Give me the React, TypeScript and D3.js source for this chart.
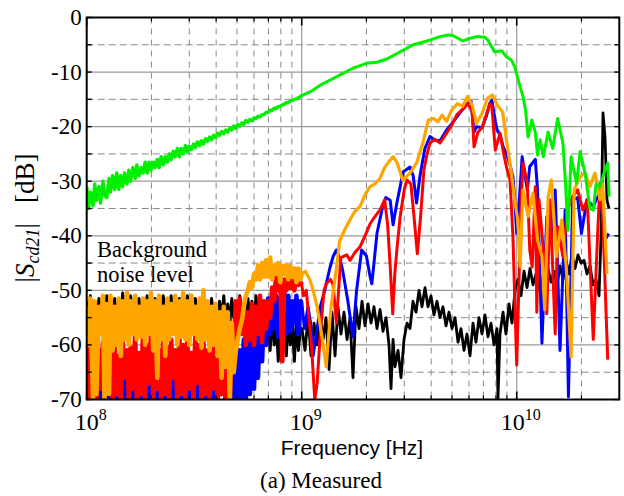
import React from 'react';
import * as d3 from 'd3';

// ---------- DATA ----------
const yTickValues = [0, -10, -20, -30, -40, -50, -60, -70];
const yHalfTicks = [-5, -15, -25, -35, -45, -55, -65];
const xMajorTicks = [1e8, 1e9, 1e10];
const xMajorExponents = ['8', '9', '10'];
const xMinorTicks = [2e8, 3e8, 4e8, 5e8, 6e8, 7e8, 8e8, 9e8, 2e9, 3e9, 4e9, 5e9, 6e9, 7e9, 8e9, 9e9, 2e10];

// low band sweep (MHz)
const freqLoMHz = [
  100, 102, 104, 107, 109, 111, 114, 116, 119, 121,
  124, 127, 129, 132, 135, 138, 141, 144, 147, 150,
  154, 157, 160, 164, 168, 171, 175, 179, 183, 187,
  191, 195, 199, 204, 208, 213, 217, 222, 227, 232,
  237, 242, 247, 253, 258, 264, 270, 275, 281, 288,
  294, 300, 307, 314, 320, 327, 335, 342, 349, 357,
  365, 373, 381, 389, 398, 406, 415, 424, 434, 443,
  453, 463, 473, 483, 494, 504, 515, 527, 538, 550,
  562, 574, 587, 600, 613, 626, 640, 654, 668, 683,
  698, 713, 729, 745, 761, 778, 795, 812, 830, 848,
  866, 885, 905, 924, 945, 965, 986,
];

const greenLo = [
  -31, -35, -32, -34.5, -30.5, -33.5, -31, -34, -30, -32.5,
  -33, -29.5, -32, -29, -31.5, -28.5, -31.5, -29, -31, -28.5,
  -30.5, -28, -30, -27.5, -29.5, -27, -29, -27.5, -28.5, -26.5,
  -28.5, -26.5, -28, -26.5, -27.5, -26, -27.5, -25.5, -27, -25.5,
  -26.5, -25, -26, -24.5, -25.5, -24, -25.5, -24, -25, -23.5,
  -24.6, -23.6, -24.2, -23.2, -23.8, -22.8, -23.5, -22.6, -23.2, -22.2,
  -22.7, -21.9, -22.4, -21.6, -22.0, -21.2, -21.6, -20.9, -21.3, -20.6,
  -21.0, -20.3, -20.6, -19.9, -20.3, -19.6, -19.9, -19.3, -19.6, -18.9,
  -19.2, -18.7, -18.9, -18.4, -18.5, -18.1, -18.2, -17.8, -17.8, -17.4,
  -17.4, -17.0, -17.0, -16.6, -16.7, -16.3, -16.3, -16.0, -15.9, -15.6,
  -15.6, -15.3, -15.2, -15.0, -14.9, -14.7, -14.5,
];

const blackLo = [
  -52, -56, -51, -55, -53, -57, -51.5, -55, -52.5, -56,
  -51, -55.5, -53, -56.5, -51.5, -55, -52, -57, -50.5, -55,
  -52.5, -56, -51, -55.5, -53, -56, -51.5, -55, -52, -56.5,
  -51, -55, -53.5, -56, -51.5, -55.5, -52, -57, -51, -55,
  -52.5, -56, -51, -55, -53, -57, -51.5, -55.5, -52, -56,
  -51, -55, -52.5, -56.5, -51.5, -55, -53, -56, -51, -55.5,
  -52, -56, -51.5, -55, -53, -57, -52, -55.5, -51, -56,
  -52.5, -56, -51.5, -55, -52, -57, -51, -55.5, -52.5, -56,
  -51.5, -55, -52, -56.5, -51, -55.5, -53, -58, -54, -59,
  -55, -61, -54.5, -60, -56, -63, -55, -61, -56.5, -62,
  -55, -60, -56, -63, -55.5, -61, -57,
];

const orangeLo = [
  -53, -60, -51.5, -70, -52, -69, -53, -58, -51, -70,
  -52.5, -69, -51, -61, -53, -60, -51.5, -62, -52, -59,
  -50.5, -60, -52, -58, -51, -59, -53, -58.5, -51.5, -60,
  -52, -58, -50.5, -61, -52, -66, -51, -59, -53, -62,
  -51.5, -59, -52.5, -58, -51, -60, -52, -58.5, -50.5, -59,
  -52, -60, -51, -58, -53, -59, -51.5, -60.5, -50, -59,
  -52, -61, -53, -60, -52.5, -62, -54, -66, -53, -64,
  -54, -70, -56, -65, -61, -59, -57, -55.5, -53, -51,
  -50, -48.5, -49.5, -47, -48, -45.5, -48, -45, -47.5, -44.5,
  -47.5, -44, -48, -45.5, -47, -45, -48.5, -45.5, -47, -45.5,
  -48, -45.5, -47.5, -46, -48.5, -46, -48,
];

const redLo = [
  -59, -70, -60, -66, -58.5, -70, -61, -68, -59.5, -70,
  -60, -67, -61.5, -70, -60, -69, -62, -70, -59, -66,
  -61, -70, -60.5, -68, -58, -70, -61.5, -69, -57, -70,
  -60, -67, -57.5, -70, -59, -68, -61, -70, -58, -69,
  -60.5, -70, -59, -66, -61, -70, -58.5, -69, -60, -70,
  -59, -68, -61.5, -70, -58, -67, -60, -70, -59.5, -69,
  -61, -70, -58.5, -68, -60, -70, -59, -69, -57.5, -70,
  -58, -70, -56, -61, -52, -59, -51.5, -58, -53, -60,
  -54, -59, -52.5, -60, -53, -58, -51, -59.5, -52, -57,
  -52, -55, -49.5, -52, -47, -50, -47.5, -63, -48, -50,
  -47.5, -49.5, -48, -50, -47.5, -49, -48.5,
];

const blueLo = [
  -66, -70, -64, -70, -67, -70, -63, -70, -65, -69,
  -64, -70, -66, -70, -63.5, -70, -65, -70, -64, -70,
  -66, -70, -63, -70, -65, -69, -64, -70, -66, -70,
  -63, -70, -65, -70, -64, -70, -66, -69, -63, -70,
  -65, -70, -64, -70, -66, -70, -63, -70, -65, -70,
  -64, -70, -66, -69, -63, -70, -65, -70, -64, -70,
  -66, -70, -63, -70, -65, -70, -64, -69, -62, -70,
  -64, -70, -63, -70, -62, -70, -61, -70, -59, -70,
  -58, -69, -57, -68, -56, -66, -55, -63, -53.5, -60,
  -51.5, -58, -52, -57, -51, -58.5, -51.5, -57, -50.5, -58,
  -51, -57.5, -52, -56, -51, -58, -52,
];

// upper band: [GHz, dB]
const greenHi: [number, number][] = [
  [1.0, -14.3], [1.1, -13.6], [1.22, -12.4], [1.35, -11.5], [1.51, -10.5], [1.73, -9.3], [2.0, -8.4],
  [2.24, -8.2], [2.49, -7.6], [2.87, -6.3], [3.3, -5.0], [3.83, -4.3], [4.4, -3.5], [4.79, -3.2],
  [5.04, -3.3], [5.62, -4.3], [6.07, -3.8], [6.53, -3.5], [7.1, -3.6], [7.33, -4.1], [7.9, -6.3],
  [8.53, -6.1], [8.96, -7.2], [9.45, -7.8], [9.78, -9], [10.37, -12.7], [10.7, -14.5], [11.0, -17],
  [11.3, -21.9], [11.76, -18.8], [12.2, -21], [12.5, -25.2], [12.85, -22.4], [13.3, -25.5], [14.0, -21],
  [14.7, -24], [15.5, -18.5], [16.4, -23], [16.9, -31], [17.3, -39], [17.9, -25.5], [19.0, -30.4],
  [19.7, -24.6], [20.8, -28.5], [21.9, -35], [22.7, -35.3], [23.4, -30.5], [24.4, -31], [25.7, -28],
  [26.5, -26.7], [26.9, -32.8],
];

const orangeHi: [number, number][] = [
  [1.0, -47], [1.04, -46.5], [1.09, -48], [1.13, -50], [1.18, -53], [1.22, -56.5], [1.27, -61], [1.3, -64],
  [1.33, -59], [1.37, -53], [1.45, -46], [1.5, -41], [1.58, -39], [1.68, -37], [1.77, -35.5], [1.87, -34.6],
  [1.97, -32.5], [2.08, -31], [2.19, -30.5], [2.31, -29.5], [2.43, -27.5], [2.58, -26.1], [2.66, -25.5],
  [2.77, -26.5], [2.95, -29.8], [3.19, -28.5], [3.42, -26.7], [3.66, -23], [3.88, -18.8], [4.1, -18.5],
  [4.3, -19.1], [4.5, -17.9], [4.72, -19], [4.98, -17], [5.3, -15.8], [5.6, -16.3], [5.9, -14.5], [6.2, -16],
  [6.5, -19.4], [6.9, -17.6], [7.3, -14.8], [7.7, -14.2], [8.1, -16], [8.6, -17.3], [8.96, -22.4],
  [9.45, -28.6], [9.78, -33.4], [10.1, -37], [10.37, -45.6], [10.7, -31.6], [11.3, -36.5], [11.9, -32.2],
  [12.5, -40.8], [13.1, -43.8], [13.5, -53.6], [14.0, -32.8], [14.5, -29.8], [15.3, -43.8], [16.2, -37.1],
  [17.0, -45.7], [17.9, -62.2], [18.5, -31.6], [19.7, -29.2], [20.8, -28.5], [21.9, -31], [23.1, -28.5],
  [24.4, -33.4], [25.1, -30.5], [26.3, -47],
];

const redHi: [number, number][] = [
  [1.0, -49], [1.02, -51], [1.05, -50], [1.08, -55], [1.11, -60], [1.15, -70], [1.18, -67], [1.22, -58],
  [1.27, -50], [1.3, -48.8], [1.36, -48], [1.4, -49], [1.45, -56], [1.52, -44], [1.62, -43.5], [1.68, -44.5],
  [1.77, -43], [1.87, -42], [1.97, -40], [2.08, -37.8], [2.19, -36.5], [2.31, -35.3], [2.43, -33.4],
  [2.51, -38], [2.58, -45.6], [2.65, -54.3], [2.71, -47], [2.77, -42.6], [2.87, -36.5], [3.0, -31.5],
  [3.09, -29.8], [3.22, -30.5], [3.32, -36], [3.45, -43.3], [3.58, -36], [3.7, -28], [3.83, -25], [3.95, -23],
  [4.16, -22.3], [4.4, -23], [4.72, -21.2], [4.98, -19.8], [5.27, -17.8], [5.62, -16.8], [5.9, -15.8],
  [6.2, -17], [6.33, -23.7], [6.6, -21], [6.9, -20.2], [7.2, -18], [7.5, -15.8], [7.66, -16.2], [7.95, -24.3],
  [8.37, -21.2], [8.7, -25], [8.96, -27.4], [9.31, -29.8], [9.6, -40], [10.0, -63.7], [10.3, -45],
  [10.5, -33.4], [10.7, -26.7], [11.2, -30.4], [11.5, -42.6], [11.8, -45.7], [12.2, -31], [12.4, -54],
  [12.7, -33.4], [13.3, -42.6], [13.8, -54.3], [14.3, -33.4], [15.1, -58], [15.5, -38.3], [16.4, -43.8],
  [17.2, -35.3], [18.2, -32.8], [19.2, -31.6], [20.3, -35.3], [21.3, -33.4], [22.7, -59], [23.8, -39.5],
  [24.4, -30.4], [25.1, -36], [26.5, -62.7],
];

const blueHi: [number, number][] = [
  [1.0, -52], [1.03, -57], [1.07, -53], [1.1, -56], [1.13, -62], [1.17, -58], [1.22, -53], [1.28, -50],
  [1.35, -46], [1.4, -43.8], [1.45, -42.6], [1.5, -44], [1.55, -46.3], [1.64, -52], [1.73, -58.5], [1.8, -50],
  [1.9, -42.6], [2.0, -43.7], [2.08, -47.5], [2.12, -48.8], [2.24, -39.5], [2.37, -35], [2.46, -33],
  [2.58, -33.5], [2.66, -38], [2.77, -34], [2.87, -31], [2.96, -28.3], [3.19, -27.4], [3.3, -29], [3.42, -34],
  [3.55, -29], [3.74, -24], [3.95, -21.8], [4.16, -22.5], [4.4, -22.6], [4.72, -20.6], [4.98, -19.5],
  [5.27, -18.2], [5.62, -16.8], [5.9, -15.8], [6.13, -15.3], [6.33, -21], [6.5, -20], [6.9, -20.2],
  [7.24, -18], [7.5, -15.7], [7.66, -15.1], [7.95, -19], [8.1, -20.6], [8.37, -21.5], [8.65, -23.7],
  [8.96, -25], [9.31, -27], [9.6, -29.2], [9.78, -33], [10.0, -39.6], [10.3, -33], [10.6, -25.5],
  [11.2, -31.6], [11.5, -27.3], [12.2, -26], [12.5, -31.6], [13.1, -59.7], [13.8, -36.5], [14.5, -39.6],
  [15.1, -31.6], [15.9, -61], [16.8, -35.3], [17.4, -69.5], [18.2, -33.4], [19.2, -33], [20.0, -39.6],
  [21.2, -33.4], [22.7, -34.6], [24.4, -32], [25.7, -40.8], [26.8, -39.6],
];

const blackHi: [number, number][] = [
  [1.003, -57], [1.036, -61], [1.07, -55], [1.105, -62], [1.141, -56], [1.178, -60], [1.217, -54.5],
  [1.257, -59], [1.297, -55], [1.34, -64.5], [1.383, -54], [1.429, -62], [1.475, -53], [1.523, -58],
  [1.573, -54], [1.625, -59], [1.678, -55], [1.732, -66], [1.789, -53], [1.847, -57], [1.908, -52],
  [1.97, -56.5], [2.034, -52.5], [2.101, -56], [2.169, -53], [2.24, -57], [2.313, -53.5], [2.389, -57.5],
  [2.467, -55], [2.547, -60], [2.602, -68], [2.659, -59], [2.716, -64], [2.805, -61], [2.896, -66],
  [2.991, -59], [3.089, -56], [3.189, -57], [3.293, -52], [3.401, -54], [3.512, -50], [3.626, -53],
  [3.745, -49.5], [3.867, -53], [3.993, -51], [4.123, -54.5], [4.258, -52], [4.397, -55], [4.54, -53],
  [4.689, -56.5], [4.841, -54], [5.0, -57], [5.164, -55], [5.333, -59.5], [5.506, -57], [5.686, -61],
  [5.871, -58], [6.063, -62], [6.261, -56], [6.466, -59.5], [6.677, -55], [6.895, -58], [7.12, -54.5],
  [7.352, -58.5], [7.593, -56], [7.84, -60], [8.097, -57], [8.18, -70], [8.361, -58], [8.634, -54],
  [8.916, -58], [9.208, -52.5], [9.508, -56], [9.818, -50], [10.14, -48], [10.47, -51], [10.81, -46.5],
  [11.17, -49.5], [11.53, -46], [11.91, -49], [12.3, -47], [12.7, -50], [13.11, -47.5], [13.54, -49],
  [13.98, -46], [14.44, -48.5], [14.91, -46.5], [15.4, -49], [15.9, -45.5], [16.42, -48], [16.96, -44.5],
  [17.51, -47], [18.08, -43.5], [18.67, -46], [19.28, -43.5], [19.91, -45], [20.56, -44.5], [21.23, -47],
  [21.93, -45.5], [22.64, -49], [23.38, -48], [24.15, -51], [24.67, -40], [25.2, -17.5], [25.75, -22],
  [26.3, -33.5], [26.87, -35],
];

// ---------- CHART ----------
const W = 624;
const H = 496;
const PL = 86.7;
const PR = 619.3;
const PT = 17.5;
const PB = 399.5;

function buildLo(lo: number[], hi: [number, number][]): [number, number][] {
  const out: [number, number][] = [];
  const n = Math.min(lo.length, freqLoMHz.length);
  for (let i = 0; i < n; i++) out.push([freqLoMHz[i] * 1e6, lo[i]]);
  if (hi.length) out.push([hi[0][0] * 1e9, hi[0][1]]);
  return out;
}

function buildHi(lo: number[], hi: [number, number][]): [number, number][] {
  const out: [number, number][] = [];
  const n = Math.min(lo.length, freqLoMHz.length);
  if (n) out.push([freqLoMHz[n - 1] * 1e6, lo[n - 1]]);
  for (const [g, v] of hi) out.push([g * 1e9, v]);
  return out;
}

export default function App() {
  const x = d3.scaleLog().domain([1e8, 3e10]).range([PL, PR]);
  const y = d3.scaleLinear().domain([-70, 0]).range([PB, PT]);
  const line = d3
    .line<[number, number]>()
    .x((d) => x(d[0]))
    .y((d) => y(d[1]));

  const series = [
    { key: 'black', color: '#000000', wLo: 3, wHi: 2.8, lo: blackLo, hi: blackHi },
    { key: 'blue', color: '#0000ff', wLo: 4.6, wHi: 3, lo: blueLo, hi: blueHi },
    { key: 'red', color: '#ff0000', wLo: 4.6, wHi: 3, lo: redLo, hi: redHi },
    { key: 'orange', color: '#ffa500', wLo: 4.6, wHi: 3.2, lo: orangeLo, hi: orangeHi },
    { key: 'green', color: '#00f000', wLo: 3.4, wHi: 3, lo: greenLo, hi: greenHi },
  ];

  const serif = "'Liberation Serif', 'Times New Roman', Times, serif";
  const sans = "'Liberation Sans', Arial, Helvetica, sans-serif";
  const gridSolid = '#9a9a9a';
  const gridDash = '#8a8a8a';

  return (
    <svg width={W} height={H} style={{ position: 'absolute', left: 0, top: 0, background: '#fff' }}>
      <defs>
        <clipPath id="plotClip">
          <rect x={PL} y={PT} width={PR - PL} height={PB - PT} />
        </clipPath>
      </defs>
      <rect x={0} y={0} width={W} height={H} fill="#fff" />

      {/* grid */}
      <g>
        {xMinorTicks.map((v) => (
          <line key={'xm' + v} x1={x(v)} x2={x(v)} y1={PT} y2={PB} stroke={gridDash} strokeWidth={1} strokeDasharray="6,5" />
        ))}
        {yHalfTicks.map((v) => (
          <line key={'yh' + v} x1={PL} x2={PR} y1={y(v)} y2={y(v)} stroke={gridDash} strokeWidth={1} strokeDasharray="7,4" />
        ))}
        {xMajorTicks.slice(1).map((v) => (
          <line key={'xM' + v} x1={x(v)} x2={x(v)} y1={PT} y2={PB} stroke={gridSolid} strokeWidth={1.2} />
        ))}
        {yTickValues.slice(1, -1).map((v) => (
          <line key={'yM' + v} x1={PL} x2={PR} y1={y(v)} y2={y(v)} stroke={gridSolid} strokeWidth={1.2} />
        ))}
      </g>

      {/* series */}
      <g clipPath="url(#plotClip)">
        {series.map((s) => (
          <g key={s.key}>
            <path d={line(buildLo(s.lo, s.hi)) || ''} fill="none" stroke={s.color} strokeWidth={s.wLo} strokeLinejoin="round" />
            <path d={line(buildHi(s.lo, s.hi)) || ''} fill="none" stroke={s.color} strokeWidth={s.wHi} strokeLinejoin="round" />
          </g>
        ))}
      </g>

      {/* ticks */}
      <g stroke="#000">
        {xMajorTicks.map((v) => (
          <g key={'tM' + v}>
            <line x1={x(v)} x2={x(v)} y1={PT} y2={PT + 8} strokeWidth={1.6} />
            <line x1={x(v)} x2={x(v)} y1={PB} y2={PB - 8} strokeWidth={1.6} />
          </g>
        ))}
        {xMinorTicks.map((v) => (
          <g key={'tm' + v}>
            <line x1={x(v)} x2={x(v)} y1={PT} y2={PT + 4} strokeWidth={1.2} />
            <line x1={x(v)} x2={x(v)} y1={PB} y2={PB - 4} strokeWidth={1.2} />
          </g>
        ))}
        {[...yTickValues, ...yHalfTicks].map((v) => (
          <g key={'ty' + v}>
            <line x1={PL} x2={PL + 5} y1={y(v)} y2={y(v)} strokeWidth={1.4} />
            <line x1={PR} x2={PR - 5} y1={y(v)} y2={y(v)} strokeWidth={1.4} />
          </g>
        ))}
      </g>

      {/* frame */}
      <rect x={PL} y={PT} width={PR - PL} height={PB - PT} fill="none" stroke="#000" strokeWidth={2} />

      {/* y tick labels */}
      {yTickValues.map((v) => (
        <text key={'yl' + v} x={PL - 5} y={y(v) + 7.5} textAnchor="end" fontFamily={serif} fontSize={23} fill="#000">
          {String(v)}
        </text>
      ))}

      {/* x tick labels */}
      {xMajorTicks.map((v, i) => (
        <text key={'xl' + v} x={x(v) + 4} y={430} textAnchor="middle" fontFamily={serif} fontSize={24} fill="#000">
          10
          <tspan dy={-10} fontSize={16}>{xMajorExponents[i]}</tspan>
        </text>
      ))}

      {/* axis titles */}
      <text x={352} y={455} textAnchor="middle" fontFamily={sans} fontSize={21} fill="#000">
        Frequency [Hz]
      </text>
      <text x={321} y={488} textAnchor="middle" fontFamily={serif} fontSize={23} fill="#000">
        (a) Measured
      </text>
      <text transform="translate(34,218) rotate(-90)" textAnchor="middle" fontFamily={serif} fontSize={27} fill="#000">
        <tspan>|</tspan>
        <tspan fontStyle="italic">S</tspan>
        <tspan fontStyle="italic" fontSize={18} dy={5}>cd21</tspan>
        <tspan dy={-5}>|</tspan>
        <tspan dx={20}>[dB]</tspan>
      </text>

      {/* annotation */}
      <text x={97} y={257} fontFamily={serif} fontSize={22.5} fill="#000">Background</text>
      <text x={97} y={282} fontFamily={serif} fontSize={22.5} fill="#000">noise level</text>
    </svg>
  );
}
